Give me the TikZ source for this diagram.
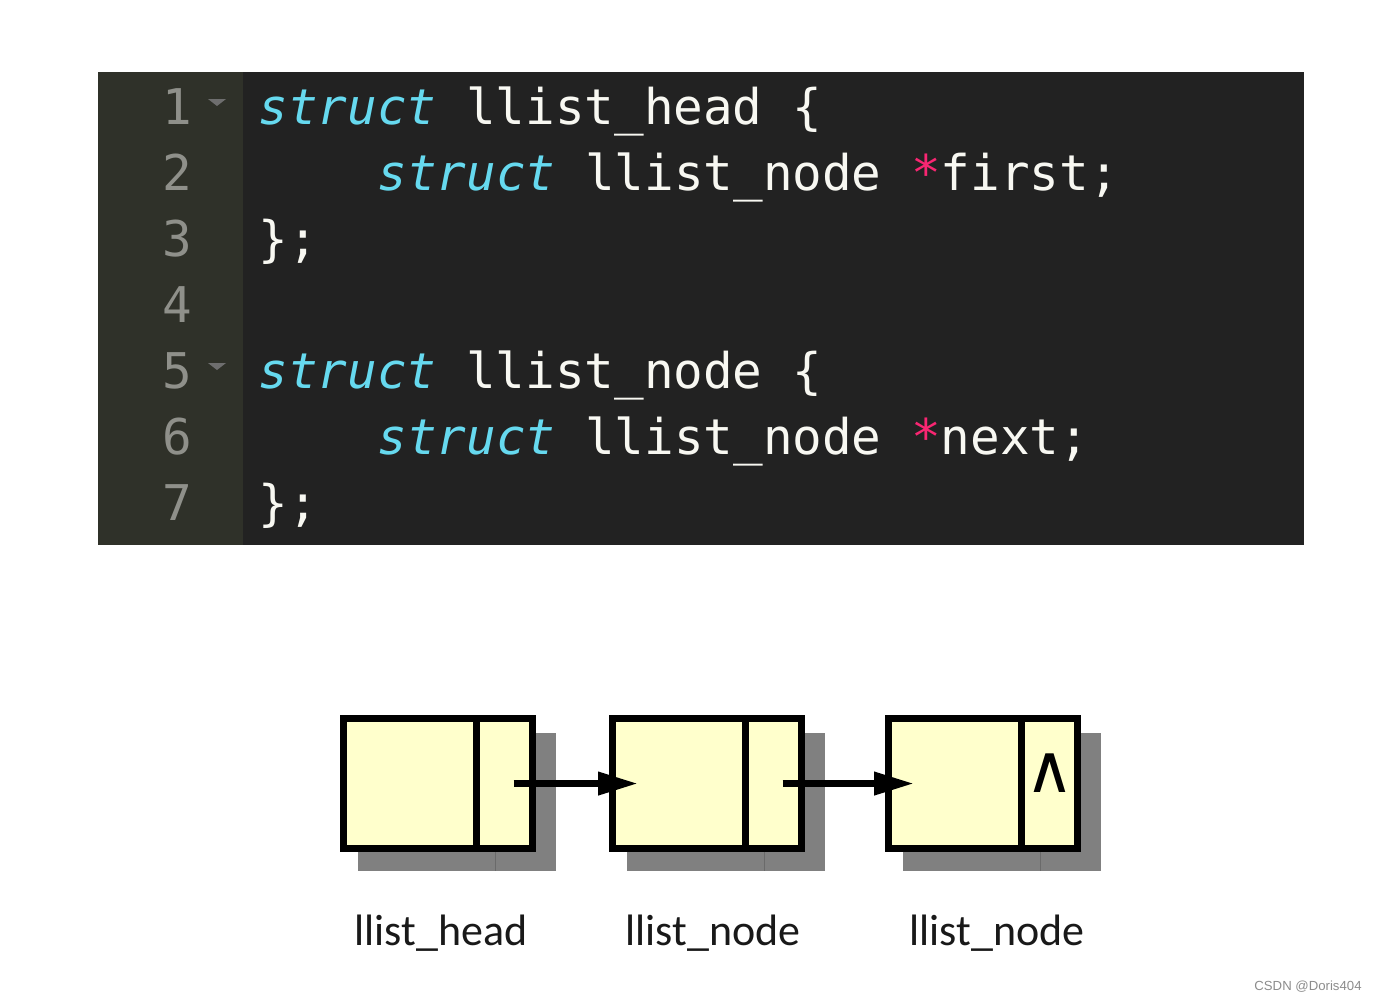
\documentclass[tikz,border=0pt]{standalone}
\usepackage{fontspec}
\setmainfont{Carlito}
\newfontfamily\codefont{DejaVu Sans Mono}[ItalicFont={DejaVu Sans Mono Oblique}]
\newfontfamily\symfont{DejaVu Sans}
\newfontfamily\markfont{Liberation Sans}
\usetikzlibrary{positioning,arrows.meta}
\definecolor{codebg}{HTML}{222222}
\definecolor{gutterbg}{HTML}{2F3129}
\definecolor{numgray}{HTML}{8F908A}
\definecolor{foldgray}{HTML}{6E6E6E}
\definecolor{kwcyan}{HTML}{66D9EF}
\definecolor{starpink}{HTML}{F92672}
\definecolor{codefg}{HTML}{F8F8F2}
\definecolor{cellfill}{HTML}{FFFFCC}
\definecolor{shadowgray}{HTML}{808080}
\definecolor{shadowedge}{HTML}{6A6A6A}
\newcommand\kwd[1]{{\color{kwcyan}\itshape #1}}
\newcommand\ptrstar{{\color{starpink}*}}
\tikzset{
  codeline/.style={anchor=base west, inner sep=0pt, text=codefg,
    font=\codefont\fontsize{14pt}{16pt}\selectfont},
  numstyle/.style={anchor=base, inner sep=0pt, text=numgray,
    font=\codefont\fontsize{14pt}{16pt}\selectfont},
  datacell/.style={draw, line width=0.07cm, fill=cellfill, outer sep=0pt,
    inner sep=0pt, minimum width=1.33cm, minimum height=1.30cm},
  ptrcell/.style={datacell, minimum width=0.56cm},
  link/.style={line width=0.07cm, -{Triangle[length=0.40cm,width=0.22cm]},
    shorten <=0.09cm, shorten >=0.41cm},
  boxlabel/.style={anchor=base, inner sep=0pt, text=black!90,
    font=\fontsize{12.5pt}{15pt}\selectfont},
  nullmark/.style={inner sep=0pt, font=\symfont\fontsize{19pt}{22pt}\selectfont}
}
\begin{document}
\begin{tikzpicture}[x=0.01cm, y=-0.01cm]
    \useasboundingbox (0,0) rectangle (1376,1000);
    \fill[codebg] (98,72) rectangle (1304,545);
    \fill[gutterbg] (98,72) rectangle (243,545);
    \foreach \i in {1,...,7}{
        \node[numstyle] (n\i) at (177,{124+66*(\i-1)}) {\i};
    }
    \foreach \i in {1,5}{
        \fill[foldgray] (208,{99+66*(\i-1)}) -- ++(18,0) -- ++(-9,7) -- cycle;
    }
    \node[codeline] (c1) at (258,124) {\kwd{struct} llist\_head \{};
    \node[codeline] (c2) at (377,190) {\kwd{struct} llist\_node \ptrstar first;};
    \node[codeline] (c3) at (258,256) {\};};
    \node[codeline] (c5) at (258,388) {\kwd{struct} llist\_node \{};
    \node[codeline] (c6) at (377,454) {\kwd{struct} llist\_node \ptrstar next;};
    \node[codeline] (c7) at (258,520) {\};};

    \foreach \k/\x in {1/343.5, 2/612.5, 3/888.5}{
        \fill[shadowgray] (\x+14.5,733) rectangle ++(198,138);
        \draw[shadowedge, line width=0.01cm] (\x+151.5,851) -- (\x+151.5,871);
        \node[datacell, anchor=north west] (d\k) at (\x,718.5) {};
        \node[ptrcell, right=0pt of d\k] (p\k) {};
    }
    \node[nullmark] (nul) at ([yshift=0.1cm]p3.center) {∧};
    \draw[link] (p1.center) -- (d2.center);
    \draw[link] (p2.center) -- (d3.center);

    \node[boxlabel] (t1) at (441,945) {llist\_head};
    \node[boxlabel] (t2) at (713,945) {llist\_node};
    \node[boxlabel] (t3) at (997,945) {llist\_node};
    \node[anchor=base, inner sep=0pt, text=black!45,
        font=\markfont\fontsize{3.75pt}{4.5pt}\selectfont] (wm) at (1308,990) {CSDN @Doris404};
\end{tikzpicture}
\end{document}
